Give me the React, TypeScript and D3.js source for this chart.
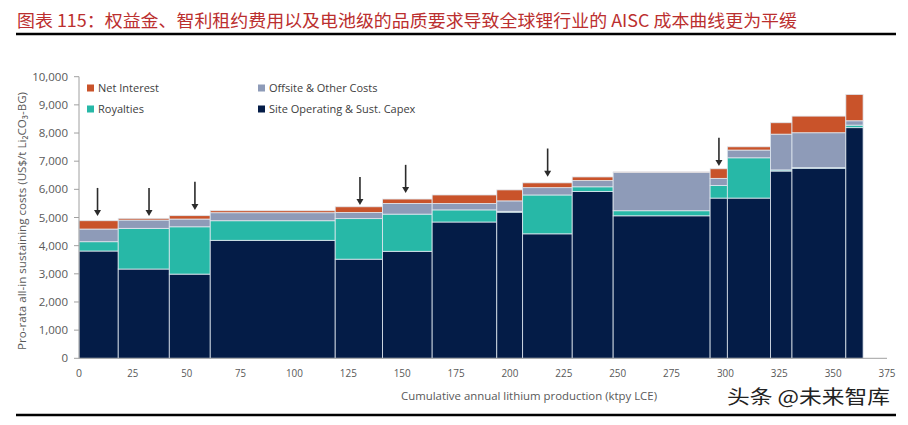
import React from "react";
import * as d3 from "d3";

const widths = [18.2, 23.7, 19, 58, 22, 23, 30, 12, 23, 19, 45, 8, 20, 10, 25, 8];
const siteOp = [3810, 3170, 2990, 4190, 3520, 3800, 4840, 5190, 4420, 5920, 5060, 5690, 5690, 6650, 6750, 8190];
const royalties = [330, 1445, 1680, 695, 1440, 1320, 430, 30, 1380, 170, 180, 450, 1430, 40, 20, 90];
const offsite = [450, 295, 275, 285, 220, 380, 230, 370, 260, 220, 1360, 250, 275, 1270, 1240, 155];
const netInterest = [295, 60, 120, 70, 200, 155, 300, 390, 170, 130, 20, 340, 115, 405, 590, 935];

const seriesNames = ["Site Operating & Sust. Capex", "Royalties", "Offsite & Other Costs", "Net Interest"];
const seriesColors = ["#041c47", "#27b8a7", "#8e9bb8", "#c9532a"];
const seriesData = [siteOp, royalties, offsite, netInterest];

const arrowX = [8.6, 32.5, 53.8, 130.4, 151.6, 217.5, 297];
const arrowTip = [5050, 5050, 5270, 5440, 5870, 6450, 6830];
const arrowLen = 1000;

const yTicks = [0, 1000, 2000, 3000, 4000, 5000, 6000, 7000, 8000, 9000, 10000];
const xTicks = [0, 25, 50, 75, 100, 125, 150, 175, 200, 225, 250, 275, 300, 325, 350, 375];

const title = "图表 115：权益金、智利租约费用以及电池级的品质要求导致全球锂行业的 AISC 成本曲线更为平缓";
const xTitle = "Cumulative annual lithium production (ktpy LCE)";
const yTitle = "Pro-rata all-in sustaining costs (US$/t Li₂CO₃-BG)";
const watermark = "头条 @未来智库";

const legendItems = [
  { name: "Net Interest", color: "#c9532a", col: 0, row: 0 },
  { name: "Royalties", color: "#27b8a7", col: 0, row: 1 },
  { name: "Offsite & Other Costs", color: "#8e9bb8", col: 1, row: 0 },
  { name: "Site Operating & Sust. Capex", color: "#041c47", col: 1, row: 1 },
];

export default function App() {
  const W = 908, H = 425;
  const x = d3.scaleLinear().domain([0, 375]).range([79, 887]);
  const y = d3.scaleLinear().domain([0, 10000]).range([358.3, 76.7]);
  const starts = d3.cumsum([0, ...widths.slice(0, -1)]);
  const font = "'Open Sans', 'Noto Sans', sans-serif";

  const rects: React.ReactNode[] = [];
  widths.forEach((w, i) => {
    let base = 0;
    seriesData.forEach((s, k) => {
      const v = s[i];
      const y0 = y(base), y1 = y(base + v);
      rects.push(
        <rect key={`r${i}-${k}`} x={x(starts[i])} y={y1} width={x(starts[i] + w) - x(starts[i])} height={y0 - y1}
          fill={seriesColors[k]} stroke="#dfe7ef" strokeWidth={0.8} />
      );
      base += v;
    });
  });

  return (
    <svg width={W} height={H} style={{ position: "absolute", left: 0, top: 0, background: "#fff" }}>
      <text x={17} y={27} fontFamily="'Noto Sans CJK SC', sans-serif" fontSize={17} fill="#bb2f2f"
        textLength={780} lengthAdjust="spacingAndGlyphs">{title}</text>
      <line x1={16} x2={896} y1={34} y2={34} stroke="#000" strokeWidth={2.5} />

      {rects}

      <line x1={79} x2={79} y1={y(10000)} y2={y(0)} stroke="#a0a0a0" strokeWidth={1} />
      <line x1={79} x2={887} y1={y(0)} y2={y(0)} stroke="#a0a0a0" strokeWidth={1} />
      {yTicks.map((t) => (
        <g key={`yt${t}`}>
          <line x1={74} x2={79} y1={y(t)} y2={y(t)} stroke="#a0a0a0" />
          <text x={68} y={y(t)} dy="0.35em" textAnchor="end" fontFamily={font} fontSize={11.5} fill="#595959">
            {d3.format(",")(t)}
          </text>
        </g>
      ))}
      {xTicks.map((t) => (
        <text key={`xt${t}`} x={x(t)} y={377} textAnchor="middle" fontFamily={font} fontSize={11} fill="#595959"
          textLength={t >= 100 ? 17 : t >= 10 ? 11 : 6} lengthAdjust="spacingAndGlyphs">{t}</text>
      ))}
      <text x={529} y={400} textAnchor="middle" fontFamily={font} fontSize={11} fill="#595959"
        textLength={256} lengthAdjust="spacingAndGlyphs">{xTitle}</text>
      <text transform={`translate(26,221) rotate(-90)`} textAnchor="middle" fontFamily={font} fontSize={11.5} fill="#595959"
        textLength={258} lengthAdjust="spacingAndGlyphs">{yTitle}</text>

      {arrowX.map((ax, i) => {
        const px = x(ax);
        const tip = y(arrowTip[i]);
        const top = y(arrowTip[i] + arrowLen);
        return (
          <g key={`a${i}`}>
            <line x1={px} x2={px} y1={top} y2={tip - 5} stroke="#2b2b2b" strokeWidth={1.6} />
            <path d={`M${px - 3.5},${tip - 6} L${px + 3.5},${tip - 6} L${px},${tip} Z`} fill="#2b2b2b" />
          </g>
        );
      })}

      {legendItems.map((l) => {
        const lx = l.col === 0 ? 87 : 258;
        const ly = l.row === 0 ? 88 : 109;
        return (
          <g key={l.name}>
            <rect x={lx} y={ly - 3.5} width={7} height={7} fill={l.color} />
            <text x={lx + 11} y={ly} dy="0.35em" fontFamily={font} fontSize={11} fill="#404040">{l.name}</text>
          </g>
        );
      })}

      <text x={727} y={404} fontFamily="'Noto Sans CJK SC', sans-serif" fontSize={19} fill="#222"
        textLength={163} lengthAdjust="spacingAndGlyphs">{watermark}</text>
      <line x1={16} x2={896} y1={415} y2={415} stroke="#000" strokeWidth={2.5} />
    </svg>
  );
}
